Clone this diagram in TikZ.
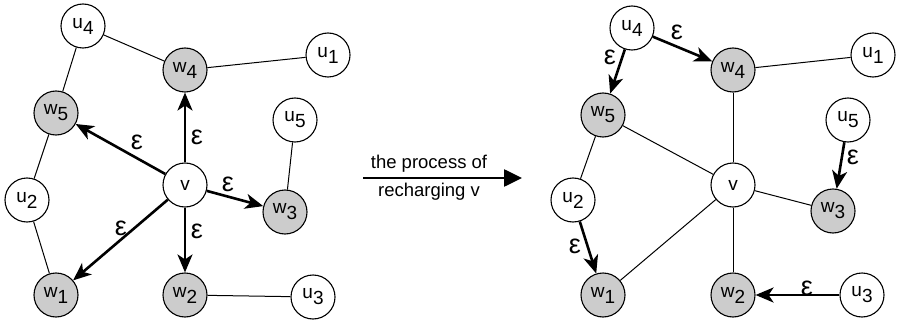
\documentclass[tikz,border=0pt]{standalone}
\usepackage{fontspec}
\setmainfont{Liberation Sans}
\usetikzlibrary{arrows.meta}
\newcommand\sublab[2]{#1\raisebox{-6pt}{#2}}
\begin{document}
\begin{tikzpicture}[x=1pt,y=-1pt,
  vtx/.style={circle, draw, line width=1.1pt, minimum size=44pt, inner sep=0pt,
              font=\fontsize{19}{19}\selectfont},
  wv/.style={vtx, fill=gray!40},
  uv/.style={vtx, fill=white},
  thin/.style={line width=1pt},
  thk/.style={line width=2.6pt, -{Stealth[length=18pt,width=15pt,inset=5pt]}},
  eps/.style={font=\fontsize{27}{27}\selectfont, inner sep=0pt},
  caption/.style={font=\fontsize{18.5}{18.5}\selectfont, inner sep=0pt, anchor=base},
]
\useasboundingbox (0,0) rectangle (899,326);

% ---------- before recharging ----------
\node[uv] (Lu4) at (83,26)  {\sublab{u}{4}};
\node[wv] (Lw4) at (185,70) {\sublab{w}{4}};
\node[uv] (Lu1) at (328,55) {\sublab{u}{1}};
\node[wv] (Lw5) at (56,113) {\sublab{w}{5}};
\node[uv] (Lu5) at (295,120) {\sublab{u}{5}};
\node[uv] (Lv)  at (185,185) {v};
\node[uv] (Lu2) at (27,200) {\sublab{u}{2}};
\node[wv] (Lw3) at (285,212) {\sublab{w}{3}};
\node[wv] (Lw1) at (56,295) {\sublab{w}{1}};
\node[wv] (Lw2) at (185,295) {\sublab{w}{2}};
\node[uv] (Lu3) at (313,297) {\sublab{u}{3}};

\draw[thin] (Lu4) -- (Lw4);
\draw[thin] (Lw4) -- (Lu1);
\draw[thin] (Lu4) -- (Lw5);
\draw[thin] (Lw5) -- (Lu2);
\draw[thin] (Lu2) -- (Lw1);
\draw[thin] (Lu5) -- (Lw3);
\draw[thin] (Lw2) -- (Lu3);

\draw[thk] (Lv) -- (Lw4);
\draw[thk] (Lv) -- (Lw5);
\draw[thk] (Lv) -- (Lw3);
\draw[thk] (Lv) -- (Lw2);
\draw[thk] (Lv) -- (Lw1);

\node[eps] (Le4) at (197,137) {ε};
\node[eps] (Le5) at (137,142) {ε};
\node[eps] (Le3) at (228,184) {ε};
\node[eps] (Le2) at (197,231) {ε};
\node[eps] (Le1) at (121,228) {ε};

% ---------- the process ----------
\coordinate (ps) at (363,178);
\coordinate (pe) at (522,178);
\draw[line width=2.6pt, -{Triangle[length=18pt,width=17pt]}] (ps) -- (pe);
\node[caption] (cap1) at (429,168) {the process of};
\node[caption] (cap2) at (429,196) {recharging v};

% ---------- after recharging ----------
\node[uv] (Ru4) at (632,28)  {\sublab{u}{4}};
\node[wv] (Rw4) at (733,70)  {\sublab{w}{4}};
\node[uv] (Ru1) at (873,55)  {\sublab{u}{1}};
\node[wv] (Rw5) at (603,115) {\sublab{w}{5}};
\node[uv] (Ru5) at (848,120) {\sublab{u}{5}};
\node[uv] (Rv)  at (733,185) {v};
\node[uv] (Ru2) at (573,200) {\sublab{u}{2}};
\node[wv] (Rw3) at (833,211) {\sublab{w}{3}};
\node[wv] (Rw1) at (603,295) {\sublab{w}{1}};
\node[wv] (Rw2) at (733,295) {\sublab{w}{2}};
\node[uv] (Ru3) at (862,295) {\sublab{u}{3}};

\draw[thin] (Rw4) -- (Ru1);
\draw[thin] (Rw4) -- (Rv);
\draw[thin] (Rw5) -- (Rv);
\draw[thin] (Rv) -- (Rw3);
\draw[thin] (Rv) -- (Rw1);
\draw[thin] (Rv) -- (Rw2);
\draw[thin] (Rw5) -- (Ru2);

\draw[thk] (Ru4) -- (Rw4);
\draw[thk] (Ru4) -- (Rw5);
\draw[thk] (Ru5) -- (Rw3);
\draw[thk] (Ru2) -- (Rw1);
\draw[thk] (Ru3) -- (Rw2);

\node[eps] (Re4) at (677,32) {ε};
\node[eps] (Re5) at (610,57) {ε};
\node[eps] (Re3) at (853,157) {ε};
\node[eps] (Re1) at (575,246) {ε};
\node[eps] (Re2) at (807,288) {ε};
\end{tikzpicture}
\end{document}
